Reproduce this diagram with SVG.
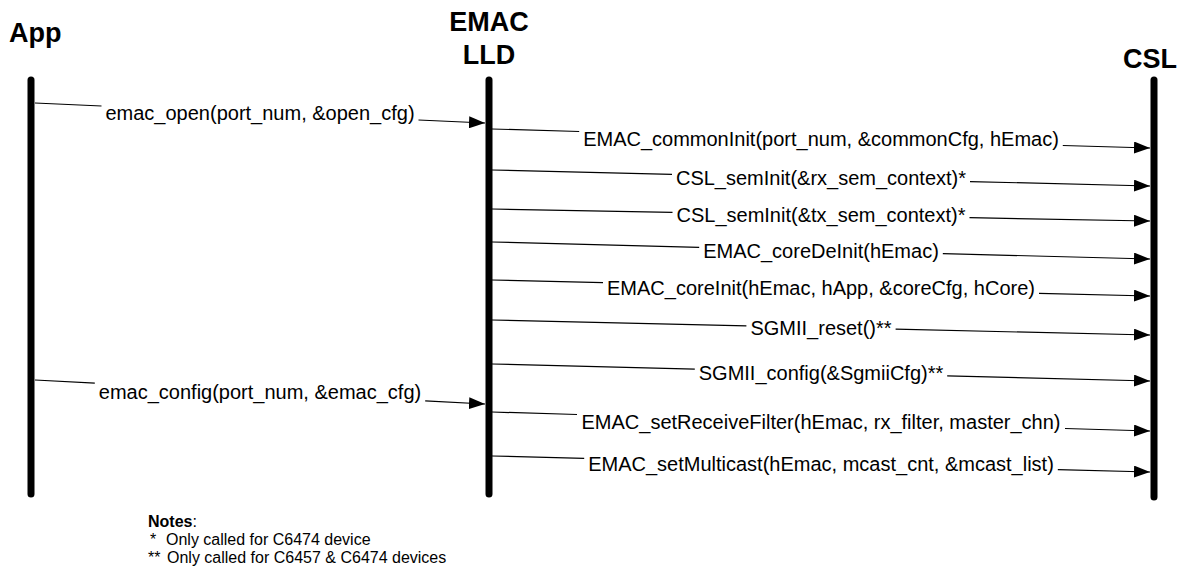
<svg xmlns="http://www.w3.org/2000/svg" width="1180" height="586" viewBox="0 0 1180 586">
<style>
.life{stroke:#000;stroke-width:7;stroke-linecap:round;fill:none}
.msg{stroke:#000;stroke-width:1.2;fill:none}
.lbl{font-family:"Liberation Sans",Arial,sans-serif;font-size:20px;fill:#000;text-anchor:middle}
.head{font-family:"Liberation Sans",Arial,sans-serif;font-size:27px;font-weight:bold;fill:#000}
.note{font-family:"Liberation Sans",Arial,sans-serif;font-size:16px;fill:#000}
</style>
<defs>
<marker id="arr" markerUnits="userSpaceOnUse" markerWidth="17" markerHeight="12" refX="16" refY="6" orient="auto">
<path d="M0,0 L16,6 L0,12 z" fill="#000"/>
</marker>
</defs>
<rect width="1180" height="586" fill="#fff"/>
<g id="app">
<text class="head" x="9" y="42">App</text>
<line class="life" x1="31" y1="80" x2="31" y2="494"/>
</g>
<g id="emac">
<text class="head" x="489" y="31" text-anchor="middle">EMAC</text>
<text class="head" x="489" y="64" text-anchor="middle">LLD</text>
<line class="life" x1="489" y1="80" x2="489" y2="494"/>
</g>
<g id="csl">
<text class="head" x="1150" y="68" text-anchor="middle">CSL</text>
<line class="life" x1="1154" y1="80" x2="1154" y2="497"/>
</g>
<g id="connectors">
<polyline class="msg" points="35,103 101.5,106"/><polyline class="msg" points="418.5,120 485,123" marker-end="url(#arr)"/>
<polyline class="msg" points="492,129 579.2,131.5"/><polyline class="msg" points="1062.8,145.5 1150,148" marker-end="url(#arr)"/>
<polyline class="msg" points="492,170 672,174.4"/><polyline class="msg" points="970,181.6 1150,186" marker-end="url(#arr)"/>
<polyline class="msg" points="492,209 672.5,212.3"/><polyline class="msg" points="969.5,217.7 1150,221" marker-end="url(#arr)"/>
<polyline class="msg" points="492,242 699.2,247.4"/><polyline class="msg" points="942.8,253.6 1150,259" marker-end="url(#arr)"/>
<polyline class="msg" points="492,280 603,282.7"/><polyline class="msg" points="1039,293.3 1150,296" marker-end="url(#arr)"/>
<polyline class="msg" points="492,320 746.4,325.8"/><polyline class="msg" points="895.6,329.2 1150,335" marker-end="url(#arr)"/>
<polyline class="msg" points="492,364 694.8,369.2"/><polyline class="msg" points="947.2,375.8 1150,381" marker-end="url(#arr)"/>
<polyline class="msg" points="35,380 94.8,383.2"/><polyline class="msg" points="425.2,400.8 485,404" marker-end="url(#arr)"/>
<polyline class="msg" points="492,412 577,414.5"/><polyline class="msg" points="1065,428.5 1150,431" marker-end="url(#arr)"/>
<polyline class="msg" points="492,456 584.2,458.3"/><polyline class="msg" points="1057.8,469.7 1150,472" marker-end="url(#arr)"/>
</g>
<g id="labels">
<text class="lbl" x="260" y="120.2">emac_open(port_num, &amp;open_cfg)</text>
<text class="lbl" x="821" y="145.7">EMAC_commonInit(port_num, &amp;commonCfg, hEmac)</text>
<text class="lbl" x="821" y="185.2">CSL_semInit(&amp;rx_sem_context)*</text>
<text class="lbl" x="821" y="222.2">CSL_semInit(&amp;tx_sem_context)*</text>
<text class="lbl" x="821" y="257.7">EMAC_coreDeInit(hEmac)</text>
<text class="lbl" x="821" y="295.2">EMAC_coreInit(hEmac, hApp, &amp;coreCfg, hCore)</text>
<text class="lbl" x="821" y="334.7">SGMII_reset()**</text>
<text class="lbl" x="821" y="379.7">SGMII_config(&amp;SgmiiCfg)**</text>
<text class="lbl" x="260" y="399.2">emac_config(port_num, &amp;emac_cfg)</text>
<text class="lbl" x="821" y="428.7">EMAC_setReceiveFilter(hEmac, rx_filter, master_chn)</text>
<text class="lbl" x="821" y="471.2">EMAC_setMulticast(hEmac, mcast_cnt, &amp;mcast_list)</text>
</g>
<g id="notes">
<text class="note" x="148" y="527"><tspan font-weight="bold">Notes</tspan>:</text>
<text class="note" x="150" y="545">*</text>
<text class="note" x="166" y="545">Only called for C6474 device</text>
<text class="note" x="148" y="563">**</text>
<text class="note" x="167" y="563">Only called for C6457 &amp; C6474 devices</text>
</g>
</svg>
